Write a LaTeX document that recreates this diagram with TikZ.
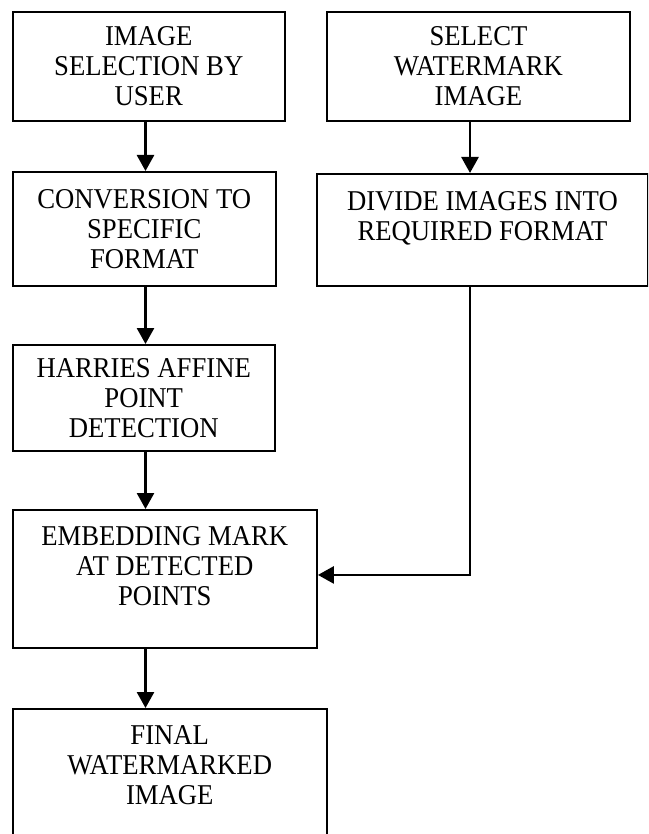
\documentclass[tikz,border=0pt]{standalone}
\usepackage{fontspec}
\setmainfont[FakeStretch=0.93]{Liberation Serif}
\usetikzlibrary{arrows.meta}
\usetikzlibrary{calc}

\newcommand{\lowpad}[1]{\rule[-#1]{0pt}{#1}}

\tikzset{
	box/.style = {draw, line width=1.9pt, anchor=north west, align=center, inner sep=0pt,
		font=\fontsize{28.7}{30}\selectfont},
	flow/.style = {line width=2.7pt, -{Triangle[width=17pt,length=16pt]}}
}

\begin{document}
\begin{tikzpicture}[x=1pt,y=-1pt]

		\useasboundingbox (0,0) rectangle (648,834);
		\clip (0,0) rectangle (648,834);
		
		\coordinate (L) at (145.5,0);
		\coordinate (R) at (470,0);
		
		% left column
		\node [box, minimum width=272.4pt, minimum height=109.3pt] (Sel) at (11.6,10.7) {IMAGE\\SELECTION BY\\USER};
		\node [box, minimum width=263.4pt, minimum height=114pt] (Conv) at (11.6,171) {CONVERSION TO\\SPECIFIC\\FORMAT};
		\node [box, minimum width=262.4pt, minimum height=106pt] (Harr) at (11.6,344) {HARRIES AFFINE\\POINT\\DETECTION};
		\node [box, minimum width=304.4pt, minimum height=138pt] (Emb) at (11.6,509) {EMBEDDING MARK\\AT DETECTED\\POINTS\lowpad{25pt}};
		\node [box, minimum width=314.4pt, minimum height=160pt] (Fin) at (11.6,708) {FINAL\\WATERMARKED\\IMAGE\lowpad{47pt}};
		
		% right column
		\node [box, minimum width=303pt, minimum height=109.3pt] (WSel) at (326,10.7) {SELECT\\WATERMARK\\IMAGE};
		\node [box, minimum width=331pt, minimum height=112pt] (Div) at (316,173) {DIVIDE IMAGES INTO\\REQUIRED FORMAT\lowpad{28pt}};
		
		\coordinate (J) at ($(Emb.east)+(0,-4)$);
		
		\draw [flow] (Sel.south -| L) -- (Conv.north -| L);
		\draw [flow] (Conv.south -| L) -- (Harr.north -| L);
		\draw [flow] (Harr.south -| L) -- (Emb.north -| L);
		\draw [flow] (Emb.south -| L) -- (Fin.north -| L);
		
		\draw [flow] (WSel.south -| R) -- (Div.north -| R);
		\draw [flow] (Div.south -| R) |- (J);
		
\end{tikzpicture}
\end{document}
